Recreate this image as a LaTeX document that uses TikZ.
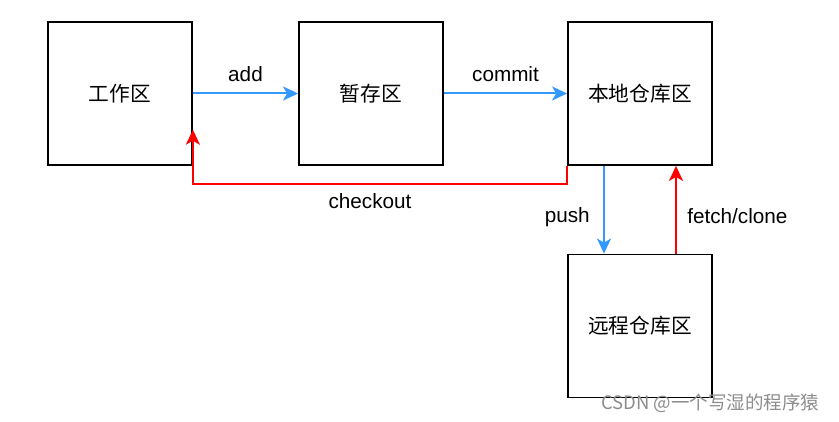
\documentclass[tikz,border=0pt]{standalone}
\usepackage{fontspec}
\setmainfont{Liberation Sans}
\newfontfamily\cjk{Noto Sans CJK SC}
\usetikzlibrary{arrows.meta,calc}

\definecolor{flowblue}{HTML}{3399FF}
\definecolor{flowred}{HTML}{FF0000}

\tikzset{
  area/.style={draw,line width=1.8pt,minimum width=144pt,minimum height=143pt,font=\cjk\fontsize{20.7}{25}\selectfont},
  fwd/.style={draw=flowblue,line width=2pt,-{Stealth[length=15pt,width=14pt,inset=4pt]}},
  back/.style={draw=flowred,line width=2pt,-{Stealth[length=15pt,width=14pt,inset=4pt]}}
}

\begin{document}
\begin{tikzpicture}[x=1pt,y=1pt,font=\fontsize{20.7}{25}\selectfont]
  \useasboundingbox (0,0) rectangle (839,421);
  % the four areas
  \node[area] (work)   at (120,327.5) {工作区};
  \node[area] (stage)  at (371,327.5) {暂存区};
  \node[area] (local)  at (640,327.5) {本地仓库区};
  \node[area] (remote) at (640,95)    {远程仓库区};
  \coordinate (tip) at ($(work.north east)!0.75!(work.south east)$);
  % forward
  \draw[fwd] (work.east) -- node[above=7pt] {add} (stage.west);
  \draw[fwd] (stage.east) -- node[above=7pt] {commit} (local.west);
  \draw[fwd] ([xshift=-36pt]local.south) -- node[left=10pt,yshift=-7pt] {push} ([xshift=-36pt]remote.north);
  % back
  \draw[back] ([xshift=36pt]remote.north) -- node[right=7pt,yshift=-6pt] {fetch/clone} ([xshift=36pt]local.south);
  \draw[back] (local.south west) -- ++(0,-18) -| node[pos=0.25,below=5pt,xshift=-10pt] {checkout} (tip);
  % watermark
  \node[anchor=east,text=black!45,font=\cjk\fontsize{18.5}{22}\selectfont] (mark) at (823,18) {CSDN @一个写湿的程序猿};
\end{tikzpicture}
\end{document}
